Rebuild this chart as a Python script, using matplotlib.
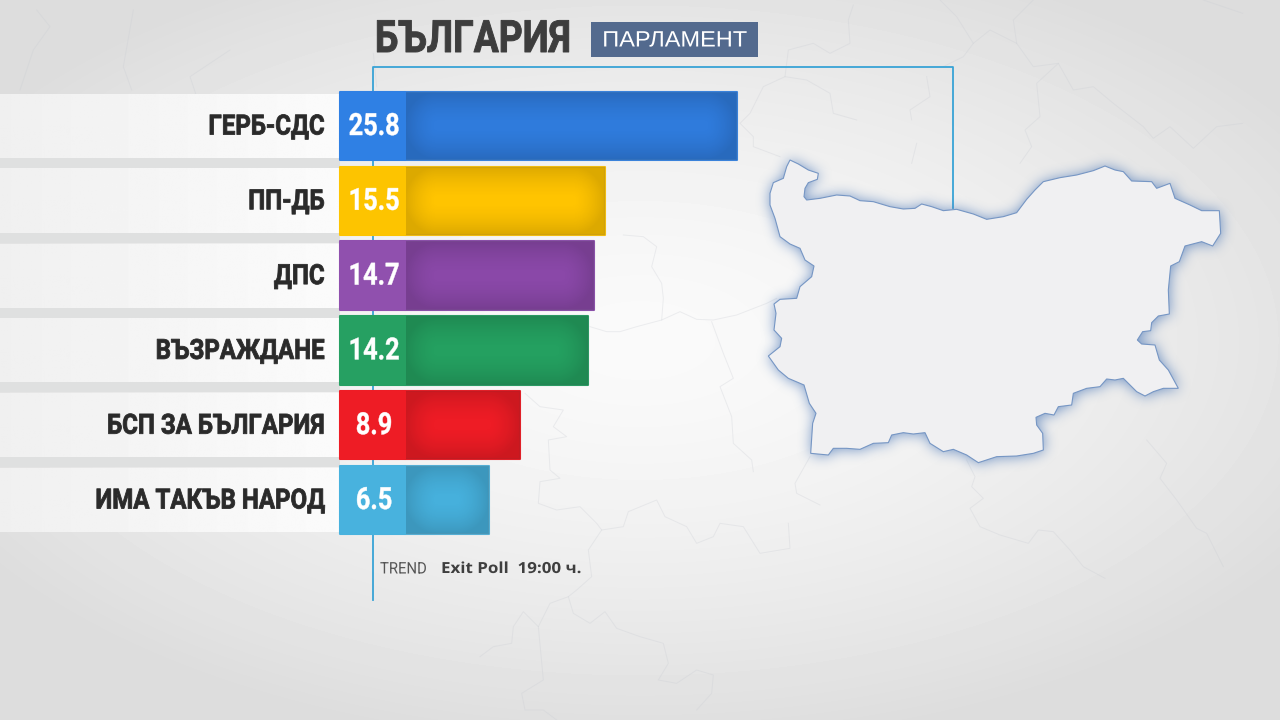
import numpy as np
import matplotlib
matplotlib.use('Agg')
import matplotlib.pyplot as plt
import matplotlib.patheffects as pe
from matplotlib.patches import Polygon
from matplotlib.path import Path
from matplotlib.transforms import Affine2D

#==============================================================================
# chart data
parties = ['ГЕРБ-СДС', 'ПП-ДБ', 'ДПС', 'ВЪЗРАЖДАНЕ', 'БСП ЗА БЪЛГАРИЯ', 'ИМА ТАКЪВ НАРОД']
values = [25.8, 15.5, 14.7, 14.2, 8.9, 6.5]
chipColors = ['#2f80e4', '#fdc400', '#9050ae', '#26a062', '#ee1c25', '#48b2de']
barColors = ['#2f7bdc', '#ffc400', '#8a48a8', '#24a060', '#ee1c25', '#46b0dc']
edgeColors = ['#3a82da', '#f0bb10', '#8a50a8', '#2a9a62', '#e02028', '#55aed4']

titleText = 'БЪЛГАРИЯ'
badgeText = 'ПАРЛАМЕНТ'
sourceText = 'TREND'
pollText = 'Exit Poll  19:00 ч.'

mapX = [150,175,205,235,232,205,195,192,200,240,290,330,360,400,450,490,525,545,575,610,650,700,740,790,830,860,885,910,960,1010,1060,1095,1125,1150,1175,1235,1250,1290,1305,1350,1385,1438,1442,1418,1385,1335,1318,1292,1285,1288,1255,1235,1232,1208,1192,1205,1245,1258,1285,1315,1270,1240,1215,1190,1150,1125,1100,1080,1040,1000,995,955,942,915,888,890,908,910,880,830,770,715,680,640,610,570,555,520,490,455,445,400,360,320,280,265,212,218,228,208,192,145,115,85,120,125,102,108,102,120,170,180,215,222,195,180,150,120,105,90,90,100,130,140]
mapY = [60,72,90,100,118,128,145,170,180,175,165,168,182,185,200,207,205,192,200,212,208,222,238,230,218,178,150,125,113,105,92,78,90,95,123,125,145,130,175,195,212,212,280,318,305,318,365,378,450,522,528,548,572,575,600,612,615,660,690,745,745,755,768,755,715,720,717,740,745,760,795,800,825,820,832,855,880,930,940,948,950,968,945,928,935,910,878,882,878,885,908,910,928,925,925,945,940,850,820,790,735,715,690,648,620,595,570,520,492,478,475,440,410,378,360,325,312,290,235,195,160,128,115,80]

# faint neighbour borders in the backdrop: crop origin, then points in 3x crop pixels
backdropLines = [
  ((480,230), [(330,290),(380,305),(420,305),(470,290),(545,270),(600,245),(650,268),(700,270),(770,255),(860,220),(890,205)]),
  ((480,230), [(545,270),(550,205),(545,160),(515,110),(530,50),(490,20),(430,15)]),
  ((480,230), [(695,275),(730,370),(760,445),(720,470),(755,560),(760,640),(815,690),(820,725)]),
  ((480,230), [(135,490),(180,530),(250,540),(220,590),(260,620),(205,630),(210,720),(240,745),(180,755),(175,820),(230,840),(300,830),(350,880),(365,900),(325,960),(335,1040),(290,1080),(265,1100),(280,1150),(330,1180),(375,1145),(410,1195),(480,1220),(550,1240),(565,1300),(535,1350),(590,1360),(650,1320),(700,1335),(695,1390),(650,1440)]),
  ((480,230), [(365,900),(430,890),(445,845),(530,810),(555,860),(620,890),(650,940),(700,920),(720,880),(790,890),(840,970),(930,955),(925,880)]),
  ((480,230), [(265,1100),(210,1120),(175,1190),(130,1145),(100,1190),(95,1240),(40,1250),(0,1280)]),
  ((480,230), [(175,1190),(190,1350),(125,1390),(135,1440),(190,1440),(230,1470)]),
  ((480,230), [(990,680),(945,760),(950,790),(1020,825)]),
  ((950,440), [(50,60),(75,110),(65,140),(100,175),(60,205),(90,260),(150,285),(235,310),(265,270),(310,275),(360,330),(400,380),(465,415)]),
  ((950,440), [(590,0),(650,70),(630,115),(680,180),(740,265),(770,280),(820,380)]),
  ((720,0), [(400,15),(385,60),(390,130),(330,160),(280,130),(205,150),(195,230),(130,260),(90,340),(60,370),(100,410),(100,440),(180,470)]),
  ((720,0), [(195,230),(260,240),(330,280),(340,340),(410,360)]),
  ((720,0), [(660,0),(710,50),(760,130),(730,170),(670,200)]),
  ((720,0), [(760,130),(810,90),(890,130),(940,200),(1015,190),(950,250),(960,350),(915,390),(935,440),(900,490)]),
  ((720,0), [(1015,190),(1060,270),(1120,260),(1180,310),(1270,380),(1300,415),(1350,380),(1420,445),(1490,380),(1568,370)]),
  ((720,0), [(890,130),(880,60),(940,0)]),
  ((720,0), [(1450,0),(1568,40)]),
  ((720,0), [(620,230),(630,290),(570,330),(575,360)]),
  ((720,0), [(590,430),(575,490)]),
  ((0,0), [(110,30),(150,80),(100,150),(60,270)]),
  ((0,0), [(400,30),(370,200),(395,270)]),
  ((0,0), [(690,150),(570,230),(590,290)]),
  ((0,0), [(1120,160),(1130,260)]),
]

# screen geometry
pxPerUnit = 12.85
zeroPx = 405.5
chipUnits = 5.1
firstRowPx = 126.0
rowStepPx = 74.8
barHeightPx = 68.5

lineColor = '#38a3d6'
labelFont = ['Roboto', 'DejaVu Sans']
plainFont = ['Liberation Sans', 'DejaVu Sans']
pollFont = ['Open Sans', 'DejaVu Sans']
#############################################################################
class Squeeze(pe.AbstractPathEffect):
  """ No condensed font is installed, so narrow the glyphs round the text anchor. """
  def __init__(self, anchorPx, sx, stroke=0.0):
    super().__init__()
    self.anchorPx, self.sx, self.stroke = anchorPx, sx, stroke

  def draw_path(self, renderer, gc, tpath, affine, rgbFace):
    squeeze = Affine2D().translate(-self.anchorPx, 0).scale(self.sx, 1).translate(self.anchorPx, 0)
    gc0 = renderer.new_gc()
    gc0.copy_properties(gc)
    if self.stroke:
      gc0.set_linewidth(self.stroke)
      gc0.set_foreground(rgbFace)
    else:
      gc0.set_linewidth(0)
    renderer.draw_path(gc0, tpath, affine + squeeze, rgbFace)
    gc0.restore()
#############################################################################
def blur(img, radius):
  """ Three box passes in each direction, close enough to a gaussian. """
  kernel = np.ones(radius*2+1)/(radius*2+1)
  for n in range(3):
    img = np.apply_along_axis(lambda r: np.convolve(r, kernel, mode='same'), 0, img)
    img = np.apply_along_axis(lambda r: np.convolve(r, kernel, mode='same'), 1, img)
  return img
#############################################################################
def drawBackdrop(ax):
  """ Gray gradient, faint borders, row strips, map and frame lines. """
  yy, xx = np.mgrid[0:720, 0:1280]
  d = np.sqrt(((xx-640)/800.)**2 + ((yy-340)/420.)**2)
  shade = np.clip(0.98 - 0.12*d**1.5, 0.865, 0.98)
  ax.imshow(shade, extent=(0,1280,720,0), cmap='gray', vmin=0, vmax=1, aspect='auto', zorder=0)

  for origin, pts in backdropLines:
    lx = [origin[0] + p[0]/3. for p in pts]
    ly = [origin[1] + p[1]/3. for p in pts]
    ax.plot(lx, ly, color='#c9ccd3', lw=0.7, alpha=.3, zorder=1)

  # row strips, fading towards the bars
  ramp = np.linspace(0.94, 0.985, 256).reshape(1, -1)
  for i in range(len(parties)):
    yc = firstRowPx + rowStepPx*i
    ax.imshow(ramp, extent=(0,340,yc+32,yc-32), cmap='gray', vmin=0, vmax=1, aspect='auto', zorder=2)
    if i < len(parties)-1:
      ax.fill_between([0,340], yc+32, yc+42, color='#dfe0e0', lw=0, zorder=2)

  # frame lines
  ax.plot([373,373,953,953], [600,67,67,208], color=lineColor, lw=1.3, zorder=3)

  # map with a soft blue shadow round it
  px = 740 + np.array(mapX)/3.
  py = 140 + np.array(mapY)/3.
  x0, x1, y0, y1 = 720, 1260, 120, 500
  gy, gx = np.mgrid[y0:y1, x0:x1]
  inside = Path(np.column_stack([px,py])).contains_points(np.column_stack([gx.ravel(), gy.ravel()]))
  inside = inside.reshape(gx.shape).astype(float)
  rgba = np.zeros(gx.shape + (4,))
  rgba[...,:3] = matplotlib.colors.to_rgb('#4f7ab8')
  rgba[...,3] = 0.8*blur(inside, 6)
  ax.imshow(rgba, extent=(x0,x1,y1,y0), aspect='auto', zorder=4)
  ax.add_patch(Polygon(np.column_stack([px,py]), closed=True, facecolor='#f0f0f2',
                       edgecolor='#7696c4', lw=0.8, zorder=5))

  # header
  ax.text(375, 40, titleText, family=labelFont, fontsize=32, fontweight='bold', color='#3d3d3d',
          ha='left', va='center', zorder=6, path_effects=[Squeeze(375, .835, .7)])
  ax.fill_between([591,758], 22, 57, color='#536a8e', lw=0, zorder=6)
  ax.text(675, 41, badgeText, family=plainFont, fontsize=16, color='white',
          ha='center', va='center', zorder=7, path_effects=[Squeeze(675, 1.06)])

  # footer
  ax.text(380, 569, sourceText, family=labelFont, fontsize=11.5, color='#555555',
          ha='left', va='center', zorder=6, path_effects=[Squeeze(380, .93)])
  ax.text(441, 569, pollText, family=pollFont, fontsize=11, fontweight='bold',
          color='#3f3f3f', ha='left', va='center', zorder=6, path_effects=[Squeeze(441, 1.11)])
#############################################################################
def drawBars(ax):
  """ Bars are on the value scale; the light chip sits left of zero. """
  pos = np.arange(len(parties))
  height = barHeightPx/rowStepPx
  bars = ax.barh(pos, values, height=height, color=barColors, edgecolor=edgeColors, lw=1.5,
                 joinstyle='round', zorder=3)
  ax.barh(pos, [chipUnits]*len(pos), left=-chipUnits, height=height, color=chipColors,
          edgecolor=chipColors, lw=1.5, joinstyle='round', zorder=5)

  # soft darker rim inside each bar body
  rimPx = 32.
  for rect, v, i in zip(bars, values, pos):
    wPx = int(v*pxPerUnit); hPx = int(barHeightPx)
    gy, gx = np.mgrid[0:hPx, 0:wPx]
    dx = np.clip(rimPx - np.minimum(gx, wPx-1-gx), 0, None)
    dy = np.clip(rimPx - np.minimum(gy, hPx-1-gy), 0, None)
    rim = np.zeros((hPx, wPx, 4))
    rim[...,3] = 0.14*np.clip(np.hypot(dx, dy)/rimPx, 0, 1)**1.6
    im = ax.imshow(rim, extent=(0, v, i+height/2, i-height/2), aspect='auto', zorder=4)
    im.set_clip_path(rect)

  labelShift = 1./rowStepPx
  for i, (name, v) in enumerate(zip(parties, values)):
    xPx = zeroPx - 31.5
    ax.text(-31.5/pxPerUnit, i, '%.1f'%v, family=labelFont, fontsize=22, fontweight='bold', color='white',
            ha='center', va='center', zorder=6, path_effects=[Squeeze(xPx, .83, .3)])
    ax.text(-6.3, i+labelShift, name, family=labelFont, fontsize=20, fontweight='bold', color='#2a2a2a',
            ha='right', va='center', zorder=6,
            path_effects=[Squeeze(zeroPx - 6.3*pxPerUnit, .865, .6)])
#############################################################################
def main():
  fig = plt.figure(figsize=(12.8,7.2), dpi=100)

  bg = fig.add_axes([0,0,1,1])
  drawBackdrop(bg)
  bg.set_xlim(0,1280); bg.set_ylim(720,0); bg.axis('off')

  ax = fig.add_axes([0,0,1,1])
  ax.patch.set_alpha(0)
  drawBars(ax)
  ax.set_xlim(-zeroPx/pxPerUnit, (1280-zeroPx)/pxPerUnit)
  ax.set_ylim((720-firstRowPx)/rowStepPx, -firstRowPx/rowStepPx)
  ax.axis('off')

  fig.savefig('out.png', dpi=100)

if __name__ == '__main__':
  main()
